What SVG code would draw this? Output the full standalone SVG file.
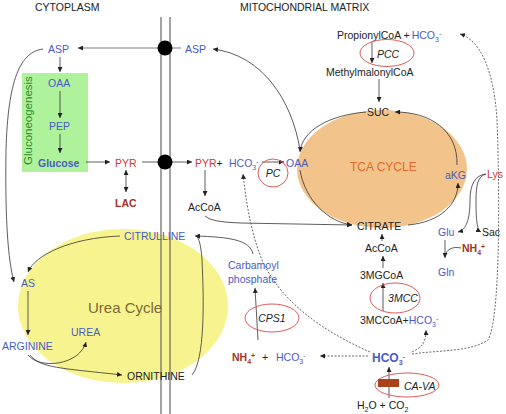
<svg xmlns="http://www.w3.org/2000/svg" width="506" height="414" viewBox="0 0 506 414">
<defs>
<marker id="ah" viewBox="0 0 6 6" refX="6" refY="3" markerWidth="5" markerHeight="5" markerUnits="userSpaceOnUse" orient="auto-start-reverse"><path d="M0,0 L6,3 L0,6 z" fill="#222"/></marker>
</defs>
<style>
text{font-family:"Liberation Sans",Arial,sans-serif;font-size:10.5px;fill:#222}
.b{fill:#4a5bc4}
.r{fill:#d2383a}
.dr{fill:#a8321f;font-weight:bold}
.i{font-style:italic;text-anchor:middle}
.c{fill:none;stroke:#333;stroke-width:0.8}
.a{marker-end:url(#ah)}
.d{fill:none;stroke:#444;stroke-width:0.8;stroke-dasharray:2,1.5}
.en{fill:none;stroke:#e05a5a;stroke-width:1}
.sub{font-size:7px}
</style>
<g id="regions">
<ellipse cx="123" cy="306" rx="105" ry="77" fill="#f7f48f"/>
<ellipse cx="382" cy="169" rx="85" ry="59" fill="#f2c48b"/>
<rect x="22" y="73" width="66" height="99" fill="#aef29c"/>
</g>
<g id="membrane" stroke="#666" stroke-width="1.2">
<line x1="161" y1="17" x2="161" y2="414"/>
<line x1="170" y1="17" x2="170" y2="414"/>
</g>
<g id="titles">
<text x="35" y="11">CYTOPLASM</text>
<text x="240" y="11">MITOCHONDRIAL MATRIX</text>
</g>
<g id="connectors">
<line x1="158" y1="48" x2="79" y2="48" stroke="#aaa" stroke-width="1.5"/>
<line x1="79" y1="48" x2="78" y2="48" class="c a"/>
<line x1="172" y1="48" x2="181" y2="48" stroke="#aaa" stroke-width="1.5"/>
<path class="c a" d="M300,150 C292,100 262,55 213,49"/>
<path class="c a" d="M60,57 L60,72"/>
<path class="c a" d="M60,91 L60,118"/>
<path class="c a" d="M60,134 L60,153"/>
<path class="c a" d="M86,162 L110,162"/>
<path class="c a" d="M126,170 L126,192" marker-start="url(#ah)"/>
<path class="c" d="M142,162 L158,162"/>
<path class="c a" d="M172,162 L192,162"/>
<path class="c a" d="M262,162 L284,162"/>
<path class="c a" d="M205,170 L205,196"/>
<path class="c a" d="M205,216 Q210,222 240,223 L352,225"/>
<path class="c a" d="M366,112 C330,115 302,130 300,152"/>
<path class="c a" d="M300,170 C305,200 328,222 352,225"/>
<path class="c a" d="M408,225 C440,222 458,205 458,183"/>
<path class="c a" d="M457,165 C458,130 430,112 395,112"/>
<path class="c a" d="M372,42 L372,63"/>
<path class="c a" d="M379,79 L379,102"/>
<path class="c a" d="M486,174 C475,175 470,185 470,200 C470,220 466,230 458,232"/>
<path class="c a" d="M486,174 C478,176 476,185 476,200 C476,220 477,230 481,232"/>
<path class="c a" d="M445,240 L445,258"/>
<path class="c" d="M461,248 C452,246 446,250 445,256"/>
<path class="c a" d="M382,241 L382,234"/>
<path class="c a" d="M383,268 L383,256"/>
<path class="c a" d="M383,311 L383,283"/>
<path class="c a" d="M258,340 L255,288"/>
<path class="c a" d="M253,254 C250,240 230,237 195,236"/>
<path class="c" d="M192,375 C205,360 204,300 202,260 C201,245 199,238 196,236"/>
<path class="c a" d="M120,236 C70,238 35,255 28,272"/>
<path class="c a" d="M43,49 C20,52 8,80 6,150 C5,220 8,260 14,282"/>
<path class="c a" d="M28,291 L28,335"/>
<path class="c a" d="M28,355 C40,370 80,365 86,342"/>
<path class="c a" d="M30,355 C40,368 60,368 122,375"/>
<path class="c a" d="M389,398 L389,367"/>
<path class="d a" d="M412,352 C420,348 426,345 426,330"/>
<path class="d a" d="M412,354 C440,350 470,352 488,340 C500,320 500,200 497,120 C494,70 480,40 460,34"/>
<path class="d a" d="M368,356 L320,356"/>
<path class="d a" d="M370,352 C320,330 280,300 262,260 C250,230 246,200 243,174"/>
</g>
<g id="transporters" fill="#000">
<circle cx="165" cy="48" r="7.5"/>
<circle cx="165" cy="162" r="7.5"/>
</g>
<g id="cytoplasm">
<text class="b" x="48" y="53">ASP</text>
<text class="b" x="48" y="87">OAA</text>
<text class="b" x="49" y="130">PEP</text>
<text class="b" x="38" y="167" font-weight="bold">Glucose</text>
<text transform="translate(32,165) rotate(-90)" style="font-size:11.5px;fill:#2e8b2e">Gluconeogenesis</text>
<text class="r" x="115" y="167">PYR</text>
<text class="dr" x="115" y="207">LAC</text>
</g>
<g id="urea">
<text class="b" x="124" y="240">CITRULLINE</text>
<text class="b" x="21" y="287">AS</text>
<text class="b" x="2" y="350">ARGININE</text>
<text class="b" x="71" y="336">UREA</text>
<text x="127" y="380">ORNITHINE</text>
<text x="88" y="313" style="font-size:15px;fill:#7b6a35">Urea Cycle</text>
</g>
<g id="matrix">
<text class="b" x="185" y="53">ASP</text>
<text x="195" y="167"><tspan class="r">PYR</tspan>+</text>
<text class="b" x="229" y="167">HCO<tspan class="sub b" dy="2.5">3</tspan><tspan class="sub b" dy="-6">-</tspan></text>
<text class="b" x="286" y="167">OAA</text>
<g id="pc"><ellipse class="en" cx="273" cy="173" rx="15" ry="14"/><text class="i" x="273" y="177">PC</text></g>
<text x="188" y="211">AcCoA</text>
<text x="350" y="171" style="font-size:12px;fill:#e0692b">TCA CYCLE</text>
<text x="367" y="116">SUC</text>
<text x="357" y="230">CITRATE</text>
<text class="b" x="445" y="179">aKG</text>
<text class="r" x="487" y="178">Lys</text>
<text class="b" x="438" y="236">Glu</text>
<text x="482" y="236">Sac</text>
<text class="dr" x="462" y="252">NH<tspan class="sub dr" dy="2.5">4</tspan><tspan class="sub dr" dy="-6">+</tspan></text>
<text class="b" x="438" y="276">Gln</text>
<text x="337" y="39">PropionylCoA +<tspan class="b" dx="2">HCO</tspan><tspan class="sub b" dy="2.5">3</tspan><tspan class="sub b" dy="-6">-</tspan></text>
<g id="pcc"><ellipse class="en" cx="387" cy="53" rx="27" ry="13.5"/><text class="i" x="388" y="58">PCC</text></g>
<text x="326" y="76">MethylmalonylCoA</text>
<text x="365" y="252">AcCoA</text>
<text x="360" y="279">3MGCoA</text>
<g id="mcc"><ellipse class="en" cx="395" cy="298" rx="25" ry="15"/><text class="i" x="403" y="302">3MCC</text></g>
<text x="360" y="324">3MCCoA+<tspan class="b">HCO</tspan><tspan class="sub b" dy="2.5">3</tspan><tspan class="sub b" dy="-6">-</tspan></text>
<text class="b" x="228" y="269">Carbamoyl</text>
<text class="b" x="228" y="283">phosphate</text>
<g id="cps1"><ellipse class="en" cx="272" cy="318" rx="27" ry="14"/><text class="i" x="272" y="322">CPS1</text></g>
<text class="dr" x="232" y="361">NH<tspan class="sub dr" dy="2.5">4</tspan><tspan class="sub dr" dy="-6">+</tspan></text>
<text x="262" y="361">+</text>
<text class="b" x="276" y="361">HCO<tspan class="sub b" dy="2.5">3</tspan><tspan class="sub b" dy="-6">-</tspan></text>
<text class="b" x="372" y="362" style="font-size:12px;font-weight:bold">HCO<tspan class="sub b" dy="2.5">3</tspan><tspan class="sub b" dy="-6">-</tspan></text>
<g id="cava"><ellipse class="en" cx="407" cy="385" rx="32" ry="12"/><rect x="378" y="379" width="21" height="8" fill="#a8421b"/><text x="404" y="390" font-style="italic">CA-VA</text></g>
<text x="357" y="409">H<tspan class="sub" dy="2.5">2</tspan><tspan dy="-2.5">O  + CO</tspan><tspan class="sub" dy="2.5">2</tspan></text>
</g>
</svg>
